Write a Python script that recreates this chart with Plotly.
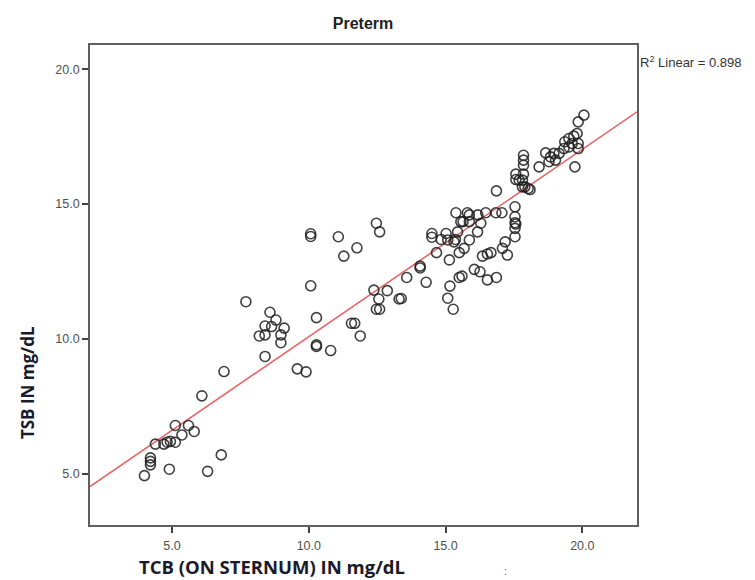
import plotly.graph_objects as go
import numpy as np

# TCB (on sternum) values, mg/dL
tcb = [3.99, 4.21, 4.21, 4.21, 4.9, 6.3, 6.8, 4.39, 4.7, 4.82, 4.94, 5.12, 5.12, 5.36, 5.6, 5.81, 6.09, 6.9,
       7.7, 8.58, 8.4, 8.8, 8.64, 9.1, 8.19, 8.4, 8.98, 8.98, 8.4,
       10.07, 10.07, 11.08, 11.28, 11.76, 12.47, 12.59, 10.07, 10.28, 12.38, 12.87, 12.56, 12.47, 12.59, 13.3,
       11.56, 11.68, 11.88, 10.28, 10.28, 10.8, 9.58, 9.9,
       13.58, 14.07, 14.07, 14.29, 13.38, 16.86, 15.38, 15.8, 15.87, 16.18, 16.47, 16.84, 17.06,
       17.54, 17.54, 17.54, 17.54, 17.54, 15.56, 15.87, 16.29, 14.5, 14.5, 15.02, 14.84, 15.08, 15.36, 15.44,
       15.87, 16.17, 14.67, 15.14, 15.5, 15.68, 16.35, 16.53, 16.66, 17.08, 17.18, 17.26, 16.05, 16.26,
       15.5, 15.6, 15.16, 16.53, 16.86, 15.08, 15.28, 17.9, 18.02, 15.64, 15.31,
       20.06, 19.85, 19.81, 19.69, 19.51, 19.36, 19.63, 19.51, 19.85, 19.85, 19.73, 19.33, 19.15, 18.96,
       18.66, 18.84, 18.78, 19.02, 18.42, 17.85, 17.85, 17.85, 17.57, 17.57, 17.85, 17.69, 17.81, 17.81,
       18.09, 17.57]

# TSB values, mg/dL
tsb = [4.93, 5.59, 5.46, 5.33, 5.17, 5.09, 5.7, 6.1, 6.1, 6.17, 6.2, 6.17, 6.79, 6.44, 6.79, 6.57, 7.89, 8.79,
       11.38, 10.99, 10.48, 10.7, 10.46, 10.4, 10.11, 10.15, 10.15, 9.86, 9.35,
       13.8, 13.9, 13.79, 13.07, 13.38, 14.29, 13.97, 11.97, 10.79, 11.81, 11.79, 11.48, 11.1, 11.1, 11.48,
       10.58, 10.58, 10.11, 9.78, 9.72, 9.57, 8.89, 8.78,
       12.28, 12.7, 12.63, 12.1, 11.5, 15.49, 14.68, 14.68, 14.6, 14.6, 14.68, 14.68, 14.68,
       14.9, 14.53, 14.31, 14.1, 13.79, 14.35, 14.35, 14.29, 13.91, 13.77, 13.91, 13.69, 13.67, 13.69, 13.97,
       13.67, 13.97, 13.2, 12.93, 13.2, 13.36, 13.07, 13.15, 13.2, 13.36, 13.6, 13.11, 12.58, 12.49,
       12.28, 12.33, 11.96, 12.19, 12.28, 11.51, 11.1, 15.64, 15.58, 14.35, 13.6,
       18.3, 18.05, 17.62, 17.52, 17.43, 17.31, 17.25, 17.12, 17.25, 17.06, 16.38, 17.06, 16.88, 16.88,
       16.9, 16.75, 16.57, 16.63, 16.38, 16.81, 16.63, 16.44, 16.11, 15.91, 16.11, 15.89, 15.89, 15.64,
       15.54, 14.26]

# Linear fit
fit_intercept = 3.14
fit_slope = 0.6945
r2_text = "R<sup>2</sup> Linear = 0.898"

x_range = [2.0, 22.0]
y_range = [3.1, 20.9]
tick_vals = [5.0, 10.0, 15.0, 20.0]
tick_text = ["5.0", "10.0", "15.0", "20.0"]

fit_x = np.array(x_range)
fit_y = fit_intercept + fit_slope * fit_x

fig = go.Figure()
fig.add_trace(go.Scatter(
    x=fit_x, y=fit_y, mode="lines",
    line=dict(color="#e8686c", width=1.6),
    hoverinfo="skip", showlegend=False))
fig.add_trace(go.Scatter(
    x=tcb, y=tsb, mode="markers",
    marker=dict(symbol="circle-open", size=10, color="rgba(30,30,30,0.85)", line=dict(width=1.6)),
    showlegend=False))

axis_common = dict(
    showgrid=False, zeroline=False, showline=True, linecolor="#606060", linewidth=1.6,
    mirror=True, ticks="outside", ticklen=6, tickwidth=1.6, tickcolor="#404040",
    tickfont=dict(family="Liberation Sans Narrow, Arial Narrow, Liberation Sans", size=12.5, color="#505050"),
    tickvals=tick_vals, ticktext=tick_text)

fig.update_xaxes(range=x_range, ticklabelstandoff=2, **axis_common)
fig.update_yaxes(range=y_range, **axis_common)

# page body has an 8px margin, so the figure is sized/placed to compensate
fig.update_layout(
    width=747, height=572,
    margin=dict(l=82, r=118, t=37, b=55),
    paper_bgcolor="white", plot_bgcolor="white",
    title=dict(text="<b>Preterm</b>", x=(363 - 8) / 747, xanchor="center", y=1 - (23 - 8) / 572,
               yanchor="middle",
               font=dict(family="Liberation Sans, Arial", size=16, color="#222222")),
    annotations=[
        dict(text=r2_text, xref="paper", yref="paper", x=1.0, y=0.965, xanchor="left", yanchor="middle",
             showarrow=False, xshift=1,
             font=dict(family="Liberation Sans, Arial", size=13, color="#333333")),
        dict(text="<b>TCB (ON STERNUM) IN mg/dL</b>", xref="paper", yref="paper", x=(272 - 90) / 547,
             y=-0.087, xanchor="center", yanchor="middle", showarrow=False,
             font=dict(family="Open Sans", size=18.5, color="#1a1a2a")),
        dict(text="<b>TSB IN mg/dL</b>", xref="paper", yref="paper", x=-0.115,
             y=(525 - 383) / 480, xanchor="center", yanchor="middle", showarrow=False, textangle=-90,
             font=dict(family="Open Sans", size=17, color="#1a1a2a")),
        dict(text=":", xref="paper", yref="paper", x=(505 - 90) / 547, y=-0.095,
             xanchor="center", yanchor="middle", showarrow=False,
             font=dict(family="Liberation Sans", size=11, color="#666666")),
    ],
)

fig.write_html("out.html")
